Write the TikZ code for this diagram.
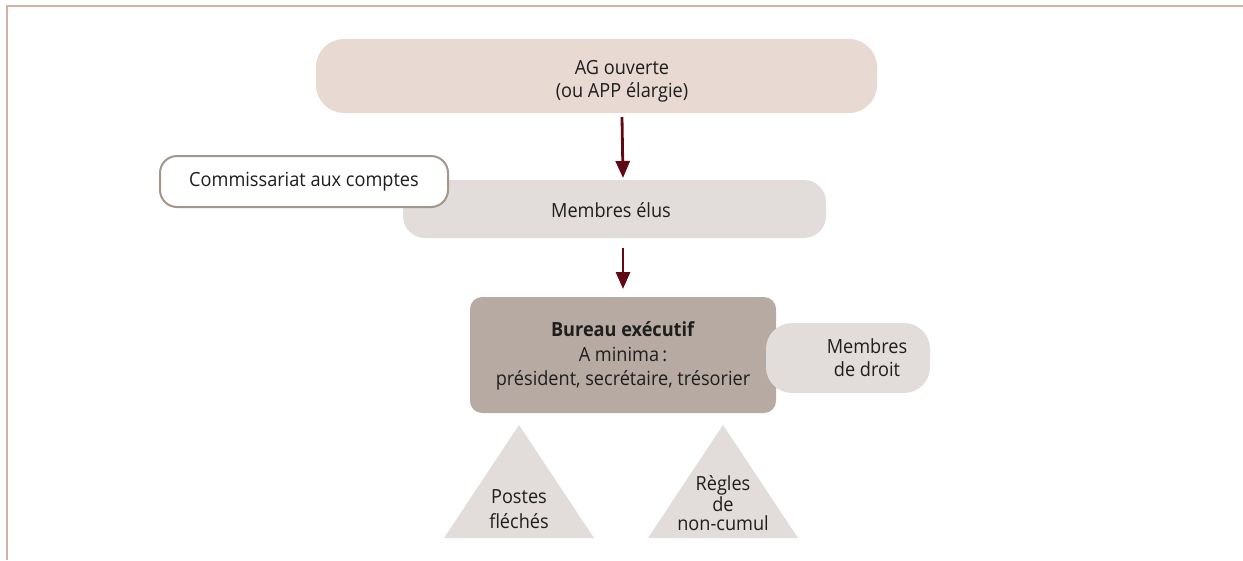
\documentclass[tikz,border=0pt]{standalone}
\usepackage{fontspec}
\setmainfont{Open Sans}[FakeStretch=0.93]
\usetikzlibrary{arrows.meta}
\definecolor{framec}{RGB}{210,178,166}
\definecolor{agfill}{RGB}{232,217,210}
\definecolor{lightfill}{RGB}{226,221,218}
\definecolor{bureaufill}{RGB}{183,170,163}
\definecolor{auditline}{RGB}{165,150,140}
\definecolor{arrowc}{RGB}{96,8,20}
\definecolor{txt}{RGB}{30,30,30}
\tikzset{
  x=1pt, y=-1pt,
  boxtext/.style={text=txt, font=\fontsize{19.5}{23}\selectfont, align=center},
  flow/.style={arrowc, line width=2.8pt, -{Triangle[length=17pt,width=14pt]}},
  tri/.style={fill=lightfill, draw=none},
}
\begin{document}
\begin{tikzpicture}
\useasboundingbox (0,0) rectangle (1243,560);
% outer frame: top rule and left rule
\draw[framec, line width=2pt] (7,560) -- (7,5.5) -- (1243,5.5);

% general assembly
\fill[agfill, rounded corners=28pt] (316,39) rectangle (877,113);
\node[boxtext] (ag) at (622,81) {AG ouverte\\(ou APP élargie)};

% elected members
\fill[lightfill, rounded corners=22pt] (403,180) rectangle (826,238);
\node[boxtext] (elus) at (611,210) {Membres élus};

% auditors
\draw[auditline, line width=2pt, fill=white, rounded corners=17pt] (160,156) rectangle (448,207);
\node[boxtext] (cac) at (304,182) {Commissariat aux comptes};

% executive board
\fill[bureaufill, rounded corners=12pt] (470,297) rectangle (776,413);
\node[boxtext, font=\fontsize{19.5}{24.5}\selectfont] (bureau) at (623,356)
  {\textbf{Bureau exécutif}\\A minima\,:\\président, secrétaire, trésorier};

% ex officio members
\fill[lightfill, rounded corners=26pt] (766,323) rectangle (930,393);
\node[boxtext] (droit) at (867,358) {Membres\\de droit};

% connectors
\coordinate (a1) at (623,117);
\coordinate (a2) at (623,248);
\draw[flow] (ag.south |- a1) -- (623,178);
\draw[flow] (a2) -- (623,289);

% triangles
\fill[tri] (519,425) -- (594,538) -- (444,538) -- cycle;
\node[boxtext, font=\fontsize{19.5}{25}\selectfont] (postes) at (519,509) {Postes\\fléchés};
\fill[tri] (723,425) -- (798,538) -- (648,538) -- cycle;
\node[boxtext, font=\fontsize{19.5}{19}\selectfont] (regles) at (723,503) {Règles\\de\\non-cumul};
\end{tikzpicture}
\end{document}
